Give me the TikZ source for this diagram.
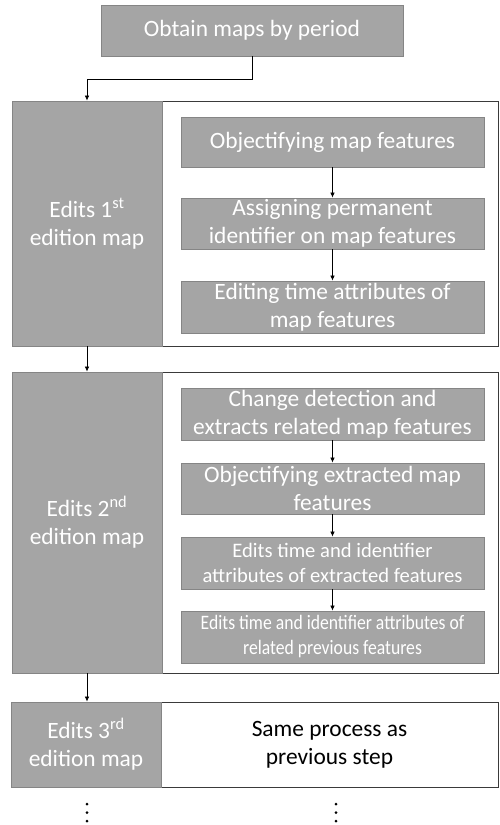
\documentclass[tikz,border=0pt]{standalone}
\usepackage{fontspec}
\usetikzlibrary{arrows.meta}
\setmainfont{Carlito}
\newfontfamily\condfont[FakeStretch=0.86]{Carlito}
\definecolor{boxgray}{HTML}{A5A5A5}
\definecolor{boxedge}{HTML}{858585}
\definecolor{frameedge}{HTML}{3A3A3A}
\begin{document}
\begin{tikzpicture}[x=1pt,y=-1pt,
  graybox/.style={draw=boxedge,line width=0.8pt,fill=boxgray,text=white,align=center,
    inner sep=0pt,font=\fontsize{23.4}{28}\selectfont},
  framebox/.style={draw=frameedge,line width=0.8pt,fill=white,inner sep=0pt},
  arr/.style={draw=black,line width=0.7pt,-{Latex[length=5pt,width=4.5pt]}}]
\useasboundingbox (0,0) rectangle (499,825);
\fill[white] (0,0) rectangle (499,825);
% top
\node[graybox,minimum width=302pt,minimum height=51pt] (top) at (252,30.5) {Obtain maps by period};
% section 1
\node[framebox,minimum width=336pt,minimum height=245pt] (F1) at (330,223.5) {};
\node[graybox,minimum width=150pt,minimum height=245pt] (L1) at (87,223.5) {Edits 1\textsuperscript{st}\\edition map};
\node[graybox,minimum width=303pt,minimum height=50pt] (A1) at (332.5,142) {Objectifying map features};
\node[graybox,minimum width=303pt,minimum height=51pt] (A2) at (332.5,223.5) {Assigning permanent\\identifier on map features};
\node[graybox,minimum width=303pt,minimum height=52pt] (A3) at (332.5,307) {Editing time attributes of\\map features};
% section 2
\node[framebox,minimum width=336pt,minimum height=301pt] (F2) at (330,522.5) {};
\node[graybox,minimum width=150pt,minimum height=301pt] (L2) at (87,522.5) {Edits 2\textsuperscript{nd}\\edition map};
\node[graybox,minimum width=303pt,minimum height=52pt] (B1) at (332.5,414) {Change detection and\\extracts related map features};
\node[graybox,minimum width=303pt,minimum height=51pt] (B2) at (332.5,488.5) {Objectifying extracted map\\features};
\node[graybox,minimum width=303pt,minimum height=52pt,font=\fontsize{20.6}{25}\selectfont] (B3) at (332.5,563) {Edits time and identifier\\attributes of extracted features};
\node[graybox,minimum width=303pt,minimum height=52pt,font=\condfont\fontsize{20.5}{25}\selectfont] (B4) at (332.5,637) {Edits time and identifier attributes of\\related previous features};
% section 3
\node[framebox,minimum width=337pt,minimum height=85pt,align=center,font=\fontsize{23.4}{28}\selectfont] (F3) at (329.5,744.5) {Same process as\\previous step};
\node[graybox,minimum width=150pt,minimum height=85pt] (L3) at (86,744.5) {Edits 3\textsuperscript{rd}\\edition map};
% arrows
\draw[arr] (top.south) -- ++(0,23) -| (L1.north);
\draw[arr] (L1.south) -- (L2.north);
\draw[arr] (L2.south) -- (L2.south |- L3.north);
\draw[arr] (A1.south) -- (A2.north);
\draw[arr] (A2.south) -- (A3.north);
\draw[arr] (B1.south) -- (B2.north);
\draw[arr] (B2.south) -- (B3.north);
\draw[arr] (B3.south) -- (B4.north);
% continuation dots
\foreach \yy in {804,812.5,821} {
  \fill (87,\yy) circle (1.5);
  \fill (336,\yy) circle (1.5);
}
\end{tikzpicture}
\end{document}
